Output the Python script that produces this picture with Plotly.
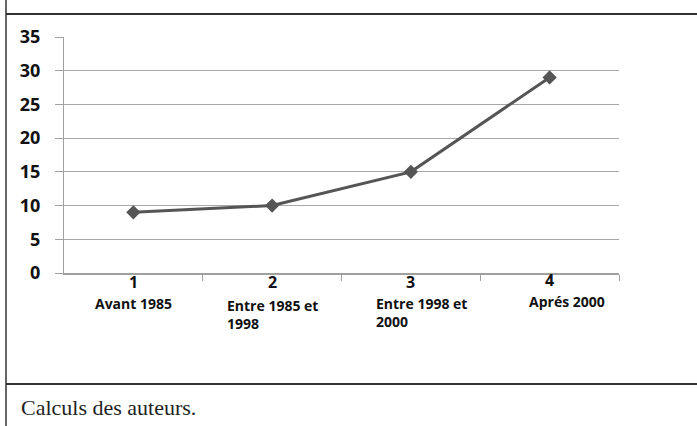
import plotly.graph_objects as go

categories = ["1", "2", "3", "4"]
period_labels = ["Avant 1985", "Entre 1985 et<br>1998", "Entre 1998 et<br>2000", "Aprés 2000"]
values = [9, 10, 15, 29]
y_ticks = [0, 5, 10, 15, 20, 25, 30, 35]
source_note = "Calculs des auteurs."

W, H = 697, 426
L, R, T, B = 64, 619, 37, 273  # plot area in pixels

def px(x):
    return (x - L) / (R - L)

def py(y):
    return (B - y) / (B - T)

xs = list(range(len(categories)))

fig = go.Figure()
fig.add_trace(go.Scatter(
    x=xs, y=values, mode="lines+markers",
    line=dict(color="#555555", width=3),
    marker=dict(symbol="diamond", size=11, color="#555555"),
    showlegend=False, hoverinfo="skip",
))

annotations = []
num_dy = [9, 9, 9, 7]
lab_dx = [0, 0, 11, 17]
lab_dy = [29, 31, 29, 27]   # centre of first label line below the axis
for i, (c, lab) in enumerate(zip(categories, period_labels)):
    annotations.append(dict(
        x=i, y=0, xref="x", yref="y", text="<b>%s</b>" % c, showarrow=False,
        xanchor="center", yanchor="middle", yshift=-num_dy[i],
        font=dict(family="Open Sans", size=16, color="#111111"),
    ))
    annotations.append(dict(
        x=i, y=0, xref="x", yref="y", text="<b>%s</b>" % lab, showarrow=False,
        xanchor="center", yanchor="top", align="left", xshift=lab_dx[i],
        yshift=-(lab_dy[i] - 10),
        font=dict(family="Open Sans", size=14, color="#111111"),
    ))

annotations.append(dict(
    x=px(19), y=py(407), xref="paper", yref="paper", text=source_note,
    showarrow=False, xanchor="left", yanchor="middle",
    font=dict(family="Liberation Serif", size=22, color="#222222"),
))

shapes = [
    dict(type="line", xref="paper", yref="paper", x0=px(6), x1=px(W), y0=py(14), y1=py(14),
         line=dict(color="#333333", width=2)),
    dict(type="line", xref="paper", yref="paper", x0=px(6), x1=px(W), y0=py(384), y1=py(384),
         line=dict(color="#333333", width=2)),
    dict(type="line", xref="paper", yref="paper", x0=px(6), x1=px(6), y0=py(0), y1=py(H),
         line=dict(color="#333333", width=1.5)),
]

fig.update_layout(
    width=W, height=H,
    margin=dict(l=L, r=W - R, t=T, b=H - B, pad=0),
    paper_bgcolor="white", plot_bgcolor="white",
    annotations=annotations, shapes=shapes,
    xaxis=dict(
        range=[-0.5, len(categories) - 0.5], tickvals=[0.5, 1.5, 2.5, 3.5],
        showticklabels=False, ticks="outside", ticklen=6, tickcolor="#a0a0a0",
        showgrid=False, zeroline=False, showline=True, linecolor="#a0a0a0", linewidth=1.5,
    ),
    yaxis=dict(
        range=[0, 35], tickvals=y_ticks, ticks="outside", ticklen=8, tickcolor="#a0a0a0",
        showgrid=True, gridcolor="#a8a8a8", gridwidth=1.2, zeroline=False,
        showline=True, linecolor="#a0a0a0", linewidth=1.2,
        tickfont=dict(family="Open Sans", size=18, color="#111111", weight="bold"),
        ticklabelstandoff=11,
    ),
)

fig.write_html("out.html", config={"displayModeBar": False},
               post_script="document.body.style.margin='0';")
